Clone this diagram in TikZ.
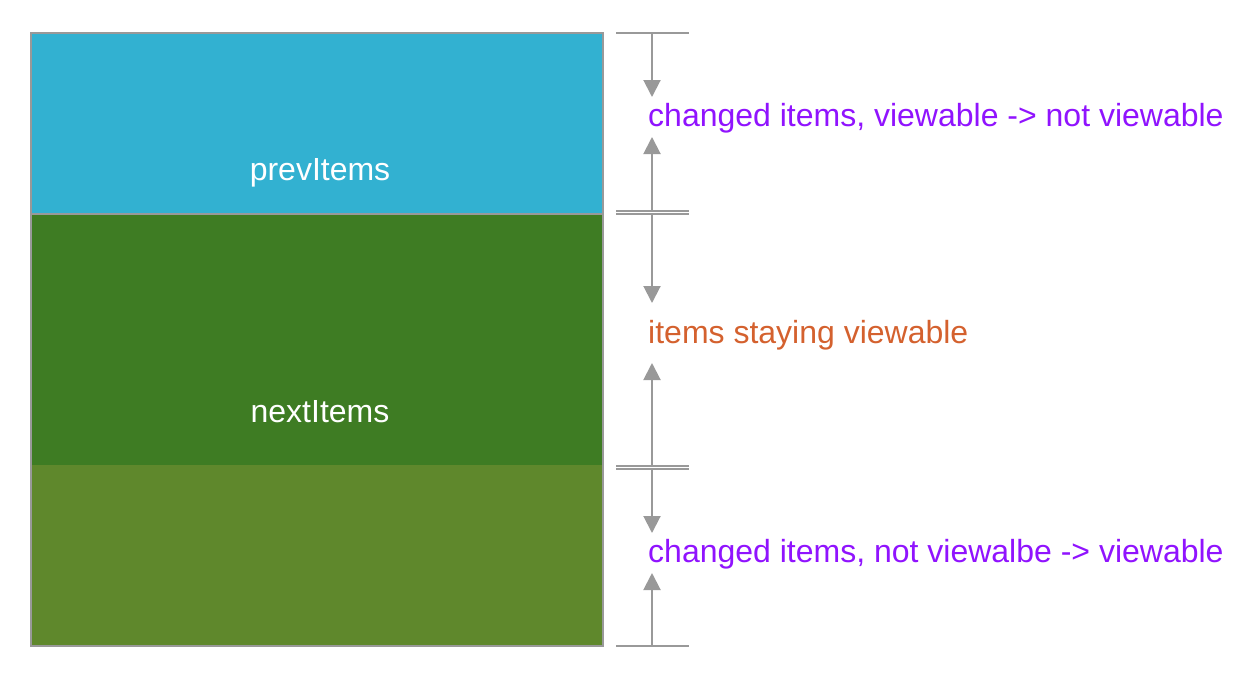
\documentclass[tikz,border=0pt]{standalone}
\usepackage{fontspec}
\setmainfont{Liberation Sans}
\usetikzlibrary{arrows.meta}
\definecolor{cyanbox}{HTML}{32B1D1}
\definecolor{darkgreen}{HTML}{3E7C23}
\definecolor{lightgreen}{HTML}{5F882C}
\definecolor{linegray}{HTML}{999999}
\definecolor{purpletext}{HTML}{9013FE}
\definecolor{orangetext}{HTML}{D4612E}
\tikzset{
  section/.style={draw=none, inner sep=0pt, minimum width=572pt},
  boxtext/.style={text=white, font=\fontsize{32}{36}\selectfont, inner sep=0pt},
  label/.style={anchor=west, font=\fontsize{32}{36}\selectfont, inner sep=0pt},
  tick/.style={draw=linegray, line width=2pt},
  dim/.style={draw=linegray, line width=2pt, -{Triangle[length=17pt,width=17pt]}}
}
\begin{document}
\begin{tikzpicture}[x=1pt,y=-1pt]
\useasboundingbox (0,0) rectangle (1258,686);
% sections
\node[section, fill=cyanbox, minimum height=181pt] (prev) at (317,123.5) {};
\node[section, fill=darkgreen, minimum height=251pt] (next) at (317,339.5) {};
\node[section, fill=lightgreen, minimum height=181pt] (rest) at (317,555.5) {};
\draw[linegray, line width=2pt] (prev.south west) -- (prev.south east);
\draw[linegray, line width=2pt] (prev.north west) rectangle (rest.south east);
% texts
\node[boxtext] (prevt) at (320,173) {prevItems};
\node[boxtext] (nextt) at (320,412) {nextItems};
% ticks
\coordinate (t1) at (652,33);
\coordinate (t2a) at (652,211);
\coordinate (t2b) at (652,214);
\coordinate (t3a) at (652,465.5);
\coordinate (t3b) at (652,468.5);
\coordinate (t4) at (652,646);
\foreach \c in {t1,t2a,t2b,t3a,t3b,t4}
  \draw[tick] ([xshift=-36pt]\c) -- ([xshift=37pt]\c);
% labels
\node[label, text=purpletext] (l1) at (648,118) {changed items, viewable -> not viewable};
\node[label, text=orangetext] (l2) at (648,335) {items staying viewable};
\node[label, text=purpletext] (l3) at (648,554) {changed items, not viewalbe -> viewable};
% arrow tip coordinates
\coordinate (a1) at (652,97);
\coordinate (b1) at (652,137);
\coordinate (a2) at (652,303);
\coordinate (b2) at (652,363);
\coordinate (a3) at (652,533);
\coordinate (b3) at (652,573);
\draw[dim] (t1) -- (a1);
\draw[dim] (t2a) -- (b1);
\draw[dim] (t2b) -- (a2);
\draw[dim] (t3a) -- (b2);
\draw[dim] (t3b) -- (a3);
\draw[dim] (t4) -- (b3);
\end{tikzpicture}
\end{document}
